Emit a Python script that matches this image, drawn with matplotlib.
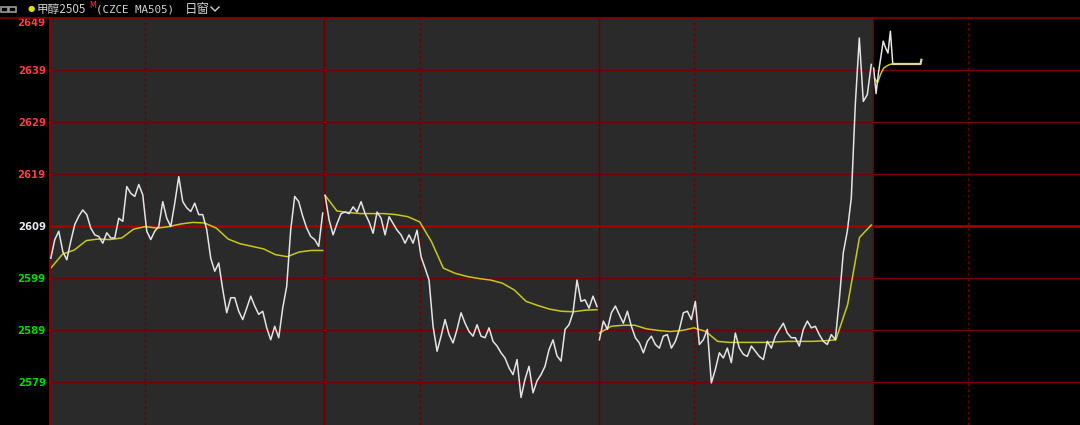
# -*- coding:utf-8 -*-
import matplotlib
matplotlib.use('Agg')
import matplotlib.pyplot as plt
import numpy as np
from matplotlib.lines import Line2D
from matplotlib.patches import FancyBboxPatch

# ---- data (price ticks per trading day) ----
SESSION = 345          # minutes per trading day (night 120 + day 225)
NIGHT = 120            # night session length, 9:00 marker

day1_price = [2602.8, 2606.4, 2608.0, 2604.1, 2602.5, 2606.1, 2609.3, 2610.9, 2612.1, 2611.2,
              2608.6, 2607.3, 2607.0, 2605.7, 2607.7, 2606.7, 2606.7, 2610.5, 2609.9, 2616.6,
              2615.3, 2614.7, 2617.0, 2615.0, 2608.0, 2606.4, 2608.0, 2608.9, 2613.7, 2610.5,
              2608.9, 2613.4, 2618.5, 2613.7, 2612.5, 2611.8, 2613.4, 2611.2, 2611.2, 2608.3,
              2602.8, 2600.3, 2601.9, 2596.8, 2592.3, 2595.2, 2595.2, 2592.6, 2591.0, 2593.2,
              2595.5, 2593.6, 2592.0, 2592.6, 2589.4, 2587.1, 2589.7, 2587.5, 2593.2, 2597.4,
              2608.3, 2614.7, 2613.7, 2610.9, 2608.6, 2607.0, 2606.4, 2605.1, 2611.5]
day1_avg = [2600.9, 2603.6, 2604.4, 2606.2, 2606.5, 2606.4, 2606.7, 2608.4, 2608.9, 2608.6,
            2608.9, 2609.4, 2609.7, 2609.6, 2608.6, 2606.5, 2605.6, 2605.1, 2604.6, 2603.5,
            2603.1, 2604.0, 2604.3, 2604.3]

day2_price = [2614.9, 2610.2, 2607.3, 2609.5, 2611.4, 2611.7, 2611.4, 2612.7, 2611.7, 2613.7,
              2611.4, 2609.8, 2607.6, 2611.7, 2610.5, 2607.3, 2610.8, 2609.5, 2608.2, 2607.3,
              2605.7, 2607.3, 2605.7, 2608.2, 2603.1, 2600.9, 2598.6, 2589.7, 2584.9, 2587.8,
              2591.0, 2588.1, 2586.5, 2589.1, 2592.3, 2590.3, 2588.7, 2587.8, 2590.0, 2587.8,
              2587.5, 2589.4, 2586.8, 2585.9, 2584.6, 2583.6, 2581.7, 2580.4, 2583.3, 2576.0,
              2579.5, 2582.0, 2576.9, 2579.2, 2580.4, 2582.0, 2585.2, 2587.1, 2584.0, 2583.0,
              2589.1, 2590.0, 2592.3, 2598.6, 2594.5, 2594.8, 2593.2, 2595.5, 2593.5]
day2_avg = [2614.9, 2611.9, 2611.6, 2611.4, 2611.4, 2611.4, 2611.2, 2610.8, 2609.8, 2606.0,
            2600.9, 2599.9, 2599.3, 2598.9, 2598.6, 2598.0, 2596.7, 2594.5, 2593.7, 2593.0,
            2592.6, 2592.5, 2592.8, 2592.9]

day3_price = [2587.1, 2590.7, 2589.1, 2592.3, 2593.6, 2591.9, 2590.3, 2592.6, 2589.7, 2587.5,
              2586.5, 2584.6, 2586.8, 2587.8, 2586.2, 2585.5, 2587.8, 2588.1, 2585.5, 2586.8,
              2589.1, 2592.3, 2592.6, 2591.0, 2594.5, 2586.2, 2587.1, 2589.1, 2578.8, 2581.4,
              2584.6, 2583.6, 2585.5, 2582.7, 2588.4, 2585.5, 2584.3, 2583.9, 2585.9, 2584.9,
              2583.9, 2583.3, 2586.8, 2585.5, 2587.8, 2589.1, 2590.3, 2588.4, 2587.5, 2587.5,
              2585.9, 2589.1, 2590.7, 2589.4, 2589.7, 2588.1, 2586.8, 2586.2, 2588.1, 2587.1,
              2594.8, 2603.9, 2608.0, 2614.4, 2632.4, 2645.2, 2633.0, 2634.3, 2640.1]
day3_avg = [2588.4, 2589.7, 2589.9, 2589.9, 2589.2, 2588.9, 2588.7, 2588.9, 2589.4, 2588.7,
            2586.8, 2586.6, 2586.6, 2586.6, 2586.6, 2586.7, 2586.8, 2586.8, 2586.8, 2586.9,
            2587.1, 2593.9, 2606.8, 2609.2]

day4_price = [2639.4, 2634.5, 2638.5, 2641.5, 2644.6, 2643.3, 2642.3, 2646.5, 2640.2]
day4_avg = [2637.5, 2636.6, 2638.2, 2639.4, 2639.8, 2640.1, 2640.2]
day4_minutes = 25      # minutes traded so far in the current session
hold_minutes = 60      # last price / average held out to here
hold_end = 2641.0

prices = [day1_price, day2_price, day3_price]
avgs = [day1_avg, day2_avg, day3_avg]

yticks = [2579, 2589, 2599, 2609, 2619, 2629, 2639, 2649]
ref_price = 2609

# ---- figure ----
fig = plt.figure(figsize=(10.8, 4.25), dpi=100, facecolor='black')
ax = fig.add_axes([50 / 1080, 0, 1030 / 1080, 407 / 425])
ax.set_facecolor('black')
ax.set_xlim(0, 1295.5)
ax.set_ylim(2570.7, 2649.05)

ax.axvspan(0, 3 * SESSION, color='#2a2a2a', zorder=0, lw=0)

grid_c = '#7a0000'
for v in yticks[:-1]:
    if v == ref_price:
        ax.axhline(v, color='#a80000', lw=1.8, zorder=1)
    else:
        ax.axhline(v, color=grid_c, lw=1.0, zorder=1)
for d in range(4):
    if d > 0:
        ax.axvline(d * SESSION, color='#6a0000', lw=1.0, zorder=1)
    ax.axvline(d * SESSION + NIGHT, color='#6a0000', lw=1.0, ls=(0, (2, 2)), zorder=1)

white = '#e4e4e4'
yellow = '#c8c81a'
for d, (p, a) in enumerate(zip(prices, avgs)):
    t0 = d * SESSION
    ax.plot(np.linspace(t0 + 1, t0 + SESSION - 2, len(p)), p, color=white, lw=1.1, zorder=3)
    ax.plot(np.linspace(t0 + 1, t0 + SESSION - 2, len(a)), a, color=yellow, lw=1.1, zorder=2)

t0 = 3 * SESSION
ax.plot(np.linspace(t0 + 1, t0 + day4_minutes, len(day4_price)), day4_price, color=white, lw=1.1, zorder=3)
ax.plot(np.linspace(t0 + 2, t0 + day4_minutes, len(day4_avg)), day4_avg, color=yellow, lw=1.1, zorder=2)
ax.plot([t0 + day4_minutes, t0 + hold_minutes, t0 + hold_minutes + 1],
        [day4_price[-1], day4_price[-1], hold_end], color='#d8d8a0', lw=1.6, zorder=3)

ax.set_xticks([])
ax.set_yticks(yticks)
labels = ax.set_yticklabels([str(v) for v in yticks], fontsize=7.3, fontweight='bold')
for v, lab in zip(yticks, labels):
    if v > ref_price:
        lab.set_color('#ff3c3c')
    elif v < ref_price:
        lab.set_color('#00dc00')
    else:
        lab.set_color('#e8e8f0')
labels[-1].set_verticalalignment('top')
ax.tick_params(axis='y', length=0, pad=3)
for s in ['right', 'bottom']:
    ax.spines[s].set_visible(False)
ax.spines['left'].set_color('#8b0000')
ax.spines['top'].set_color('#8b0000')
ax.spines['left'].set_linewidth(1.5)
ax.spines['top'].set_linewidth(1.2)

# ---- header bar ----
H = 425.0
def fy(py):
    return 1 - py / H

fig.add_artist(Line2D([0, 50 / 1080], [fy(18), fy(18)], color='#8b0000', lw=1.2))
for x0 in (1, 9):
    fig.add_artist(FancyBboxPatch((x0 / 1080, fy(12)), 7 / 1080, 5 / H,
                                  boxstyle='round,pad=0.0', fc='none', ec='#9a9a9a', lw=1.2))
fig.text(31 / 1080, fy(9), '●', color='#e0e000', fontsize=6, ha='center', va='center')
fig.text(37 / 1080, fy(9.5), '甲醇2505', color='#d0d0d0', fontsize=8.4,
         family=['Noto Sans CJK SC', 'DejaVu Sans'], va='center')
fig.text(89 / 1080, fy(5.5), 'M', color='#ff3030', fontsize=5.8, va='center')
fig.text(96 / 1080, fy(9.5), '(CZCE MA505)', color='#d0d0d0', fontsize=7.8,
         family='DejaVu Sans Mono', va='center')
fig.text(185 / 1080, fy(9.5), '日窗', color='#d0d0d0', fontsize=9,
         family=['Noto Sans CJK SC', 'DejaVu Sans'], va='center')
fig.add_artist(Line2D([211 / 1080, 215 / 1080, 219 / 1080], [fy(7), fy(11), fy(7)],
                      color='#d0d0d0', lw=1.0))

fig.savefig('out.png', dpi=100, facecolor='black')
